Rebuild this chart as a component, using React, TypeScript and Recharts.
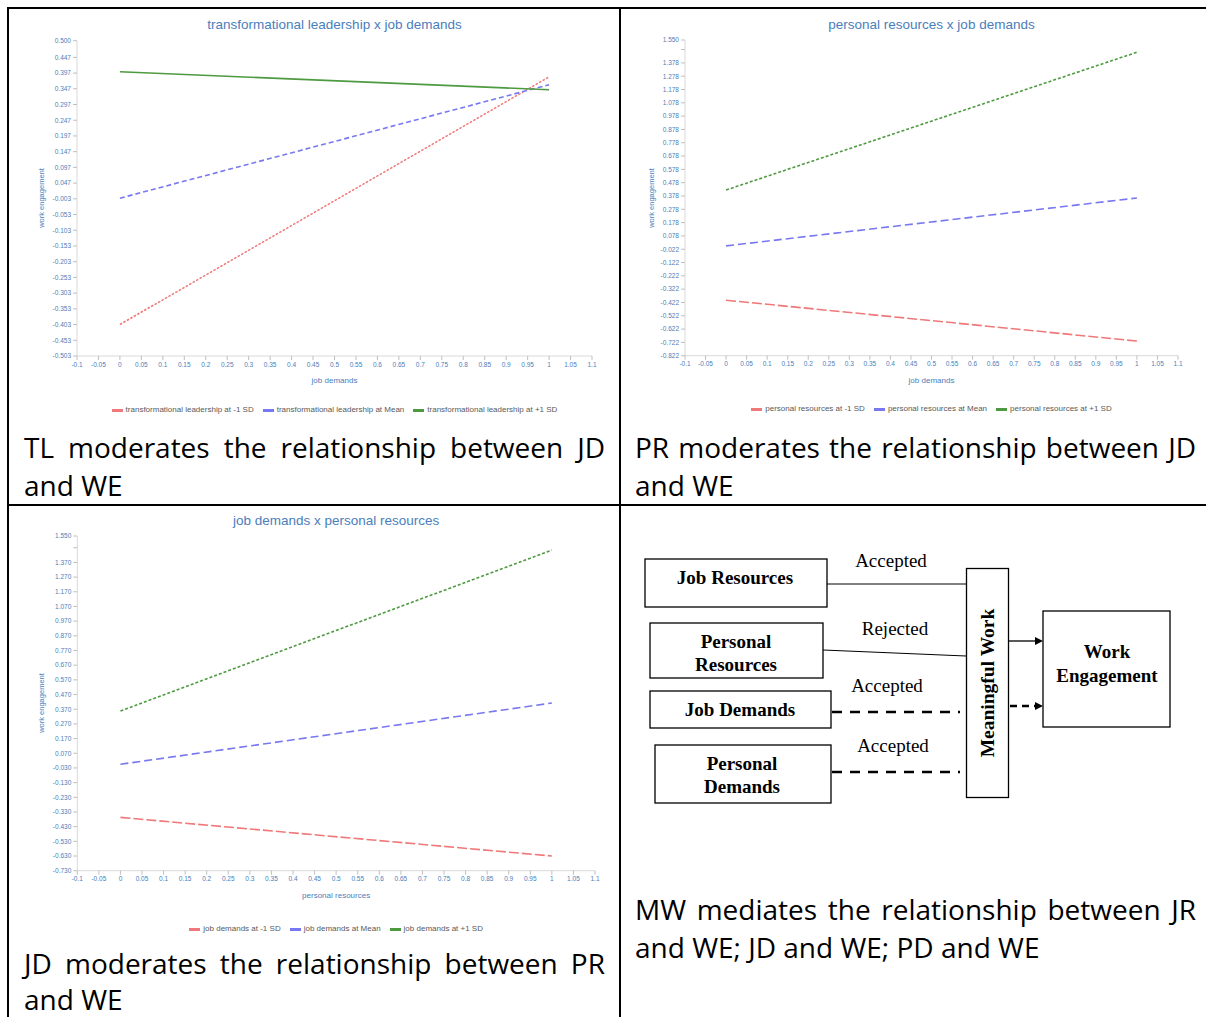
import React from 'react';
import { LineChart, Line, XAxis, YAxis } from 'recharts';

// ---------- data ----------
const xValues = [0, 1];
const xTicks = [-0.1, -0.05, 0, 0.05, 0.1, 0.15, 0.2, 0.25, 0.3, 0.35, 0.4, 0.45, 0.5, 0.55, 0.6, 0.65, 0.7, 0.75, 0.8, 0.85, 0.9, 0.95, 1, 1.05, 1.1];

// Chart 1: transformational leadership x job demands
const tlLow = [-0.403, 0.385];
const tlMean = [-0.001, 0.36];
const tlHigh = [0.401, 0.344];
const tlYTicks = [-0.503, -0.453, -0.403, -0.353, -0.303, -0.253, -0.203, -0.153, -0.103, -0.053, -0.003, 0.047, 0.097, 0.147, 0.197, 0.247, 0.297, 0.347, 0.397, 0.447, 0.5];
const tlNames = ['transformational leadership at -1 SD', 'transformational leadership at Mean', 'transformational leadership at +1 SD'];

// Chart 2: personal resources x job demands
const prLow = [-0.405, -0.712];
const prMean = [0.003, 0.363];
const prHigh = [0.423, 1.458];
const prYTicks = [-0.822, -0.722, -0.622, -0.522, -0.422, -0.322, -0.222, -0.122, -0.022, 0.078, 0.178, 0.278, 0.378, 0.478, 0.578, 0.678, 0.778, 0.878, 0.978, 1.078, 1.178, 1.278, 1.378, 1.478, 1.55];
const prBlank = [1.478];
const prNames = ['personal resources at -1 SD', 'personal resources at Mean', 'personal resources at +1 SD'];

// Chart 3: job demands x personal resources
const jdLow = [-0.367, -0.63];
const jdMean = [-0.005, 0.412];
const jdHigh = [0.358, 1.454];
const jdYTicks = [-0.73, -0.63, -0.53, -0.43, -0.33, -0.23, -0.13, -0.03, 0.07, 0.17, 0.27, 0.37, 0.47, 0.57, 0.67, 0.77, 0.87, 0.97, 1.07, 1.17, 1.27, 1.37, 1.47, 1.55];
const jdBlank = [1.47];
const jdNames = ['job demands at -1 SD', 'job demands at Mean', 'job demands at +1 SD'];

const captions = [
  ['TL moderates the relationship between JD', 'and WE'],
  ['PR moderates the relationship between JD', 'and WE'],
  ['JD moderates the relationship between PR', 'and WE'],
  ['MW mediates the relationship between JR', 'and WE; JD and WE; PD and WE'],
];

// ---------- style ----------
const RED = '#f07878';
const BLUE = '#7878f0';
const GREEN = '#4e9a40';
const AXIS_TEXT = '#4a7ebb';
const CHART_FONT = '"Liberation Sans", Arial, sans-serif';

function build(low: number[], mean: number[], high: number[]) {
  return xValues.map((x, i) => ({ x, low: low[i], mean: mean[i], high: high[i] }));
}

type PanelProps = {
  left: number; top: number; width: number; height: number;
  margin: { top: number; right: number; bottom: number; left: number };
  data: any[];
  yDomain: [number, number];
  yTicks: number[];
  blank?: number[];
  dashes: [string | undefined, string | undefined, string | undefined];
  title: string; titleY: number;
  xLabel: string; xLabelY: number;
  names: string[]; legendY: number;
};

function Panel(p: PanelProps) {
  const plotL = p.left + p.margin.left + 50;
  const plotR = p.left + p.width - p.margin.right;
  const plotT = p.top + p.margin.top;
  const plotB = p.top + p.height - p.margin.bottom - 30;
  const cx = (plotL + plotR) / 2;
  const cy = (plotT + plotB) / 2;
  const blank = p.blank || [];
  const colors = [RED, BLUE, GREEN];
  return (
    <>
      <div style={{ position: 'absolute', left: p.left, top: p.top }}>
        <LineChart width={p.width} height={p.height} data={p.data} margin={p.margin}>
          <XAxis
            type="number" dataKey="x" domain={[-0.1, 1.1]} ticks={xTicks} interval={0}
            height={30} tickSize={4} tickMargin={2}
            axisLine={{ stroke: '#d9d9d9' }} tickLine={{ stroke: '#bfbfbf' }}
            tick={{ fontSize: 6.5, fill: AXIS_TEXT, fontFamily: CHART_FONT }}
            tickFormatter={(v: number) => String(v)}
            allowDataOverflow
          />
          <YAxis
            type="number" domain={p.yDomain} ticks={p.yTicks} interval={0}
            width={50} tickSize={4} tickMargin={2}
            axisLine={{ stroke: '#d9d9d9' }} tickLine={{ stroke: '#bfbfbf' }}
            tick={{ fontSize: 6.5, fill: AXIS_TEXT, fontFamily: CHART_FONT }}
            tickFormatter={(v: number) => (blank.indexOf(v) >= 0 ? '' : v.toFixed(3))}
            allowDataOverflow
          />
          <Line type="linear" dataKey="low" stroke={RED} strokeWidth={1.6} strokeDasharray={p.dashes[0]} dot={false} isAnimationActive={false} />
          <Line type="linear" dataKey="mean" stroke={BLUE} strokeWidth={1.6} strokeDasharray={p.dashes[1]} dot={false} isAnimationActive={false} />
          <Line type="linear" dataKey="high" stroke={GREEN} strokeWidth={1.6} strokeDasharray={p.dashes[2]} dot={false} isAnimationActive={false} />
        </LineChart>
      </div>
      <div style={{ position: 'absolute', left: cx - 200, width: 400, top: p.titleY - 9, textAlign: 'center', fontFamily: CHART_FONT, fontSize: 13.5, color: AXIS_TEXT, lineHeight: '18px', whiteSpace: 'nowrap' }}>{p.title}</div>
      <div style={{ position: 'absolute', left: cx - 100, width: 200, top: p.xLabelY - 6, textAlign: 'center', fontFamily: CHART_FONT, fontSize: 8, color: AXIS_TEXT, lineHeight: '12px', whiteSpace: 'nowrap' }}>{p.xLabel}</div>
      <div style={{ position: 'absolute', left: p.left + 22 - 60, width: 120, top: cy - 6, textAlign: 'center', fontFamily: CHART_FONT, fontSize: 7.5, color: AXIS_TEXT, lineHeight: '12px', whiteSpace: 'nowrap', transform: 'rotate(-90deg)' }}>work engagement</div>
      <div style={{ position: 'absolute', left: cx - 300, width: 600, top: p.legendY - 6, display: 'flex', justifyContent: 'center', alignItems: 'center', gap: 9, fontFamily: CHART_FONT, fontSize: 8, color: '#595959', lineHeight: '12px', whiteSpace: 'nowrap' }}>
        {p.names.map((n, i) => (
          <span key={n} style={{ display: 'flex', alignItems: 'center', gap: 3 }}>
            <span style={{ display: 'inline-block', width: 11, height: 3, background: colors[i] }} />
            {n}
          </span>
        ))}
      </div>
    </>
  );
}

const captionStyle: React.CSSProperties = {
  position: 'absolute', fontFamily: '"Open Sans", sans-serif', fontSize: 28, lineHeight: '28px', color: '#000', whiteSpace: 'nowrap',
};

function Caption({ left, width, top, lines, gap = 38 }: { left: number; width: number; top: number; lines: string[]; gap?: number }) {
  return (
    <>
      <div style={{ ...captionStyle, left, width, top, textAlign: 'justify', textAlignLast: 'justify' as any, whiteSpace: 'normal' }}>{lines[0]}</div>
      <div style={{ ...captionStyle, left, width, top: top + gap, textAlign: 'left' }}>{lines[1]}</div>
    </>
  );
}

function Diagram() {
  const serif = '"Liberation Serif", "Times New Roman", serif';
  const box = { fill: '#fff', stroke: '#000', strokeWidth: 1.3 };
  const bold = { fontFamily: serif, fontWeight: 700, fontSize: 19, textAnchor: 'middle' as const, fill: '#000' };
  const reg = { fontFamily: serif, fontSize: 19, textAnchor: 'middle' as const, fill: '#000' };
  return (
    <svg width={1206} height={1017} style={{ position: 'absolute', left: 0, top: 0, pointerEvents: 'none' }}>
      {/* Job Resources */}
      <rect x={645} y={559} width={182} height={48} {...box} />
      <text x={735} y={583.5} {...bold}>Job Resources</text>
      <text x={891} y={567} {...reg}>Accepted</text>
      <line x1={827} y1={584} x2={966} y2={584} stroke="#000" strokeWidth={1} />
      {/* Personal Resources */}
      <rect x={650} y={623} width={173} height={55} {...box} />
      <text x={736} y={647.5} {...bold}>Personal</text>
      <text x={736} y={670.5} {...bold}>Resources</text>
      <text x={895} y={634.5} {...reg}>Rejected</text>
      <line x1={823} y1={650} x2={966} y2={656} stroke="#000" strokeWidth={1} />
      {/* Job Demands */}
      <text x={887} y={691.5} {...reg}>Accepted</text>
      <rect x={650} y={691} width={181} height={37} {...box} />
      <text x={740} y={715.5} {...bold}>Job Demands</text>
      <line x1={832} y1={712} x2={960} y2={712} stroke="#000" strokeWidth={2.6} strokeDasharray="10 8" />
      {/* Personal Demands */}
      <text x={893} y={752} {...reg}>Accepted</text>
      <rect x={655} y={745} width={176} height={58} {...box} />
      <text x={742} y={770} {...bold}>Personal</text>
      <text x={742} y={793} {...bold}>Demands</text>
      <line x1={832} y1={772} x2={960} y2={772} stroke="#000" strokeWidth={2.6} strokeDasharray="10 8" />
      {/* Meaningful Work */}
      <rect x={966.5} y={568.5} width={42} height={229} {...box} />
      <g transform="translate(987,683) rotate(-90)">
        <text x={0} y={6.5} {...bold} fontSize={19.5}>Meaningful Work</text>
      </g>
      {/* arrows */}
      <line x1={1009} y1={641} x2={1036} y2={641} stroke="#000" strokeWidth={1.3} />
      <polygon points="1035,637 1043,641 1035,645" fill="#000" />
      <line x1={1010} y1={706} x2={1036} y2={706} stroke="#000" strokeWidth={2.6} strokeDasharray="7 5" />
      <polygon points="1035,702 1043,706 1035,710" fill="#000" />
      {/* Work Engagement */}
      <rect x={1043} y={611} width={127} height={116} {...box} />
      <text x={1107} y={658} {...bold}>Work</text>
      <text x={1107} y={682} {...bold}>Engagement</text>
    </svg>
  );
}

export default function App() {
  const tlData = build(tlLow, tlMean, tlHigh);
  const prData = build(prLow, prMean, prHigh);
  const jdData = build(jdLow, jdMean, jdHigh);
  const line = (s: React.CSSProperties) => <div style={{ position: 'absolute', background: '#000', ...s }} />;
  return (
    <div style={{ position: 'absolute', left: 0, top: 0, width: 1206, height: 1017, background: '#fff', overflow: 'hidden' }}>
      {/* table borders */}
      {line({ left: 7, top: 7, width: 1199, height: 2 })}
      {line({ left: 7, top: 504, width: 1199, height: 2 })}
      {line({ left: 7, top: 7, width: 2, height: 1010 })}
      {line({ left: 619, top: 7, width: 2, height: 1010 })}

      <Panel
        left={20} top={10} width={590} height={410}
        margin={{ top: 30.7, right: 18, bottom: 34, left: 7 }}
        data={tlData} yDomain={[-0.503, 0.5]} yTicks={tlYTicks}
        dashes={['2.5 1.5', '5 3', undefined]}
        title="transformational leadership x job demands" titleY={25}
        xLabel="job demands" xLabelY={381}
        names={tlNames} legendY={410}
      />
      <Panel
        left={630} top={10} width={570} height={410}
        margin={{ top: 30, right: 22, bottom: 34.3, left: 5 }}
        data={prData} yDomain={[-0.822, 1.55]} yTicks={prYTicks} blank={prBlank}
        dashes={['10 3', '8 4', '3 2']}
        title="personal resources x job demands" titleY={25}
        xLabel="job demands" xLabelY={381}
        names={prNames} legendY={409}
      />
      <Panel
        left={20} top={510} width={590} height={420}
        margin={{ top: 26, right: 15, bottom: 29.3, left: 7.3 }}
        data={jdData} yDomain={[-0.73, 1.55]} yTicks={jdYTicks} blank={jdBlank}
        dashes={['10 3', '8 4', '3 2']}
        title="job demands x personal resources" titleY={521}
        xLabel="personal resources" xLabelY={896}
        names={jdNames} legendY={929}
      />

      <Caption left={24} width={581} top={433} lines={captions[0]} />
      <Caption left={635} width={561} top={433} lines={captions[1]} />
      <Caption left={24} width={581} top={949} lines={captions[2]} gap={36} />
      <Caption left={635} width={561} top={895} lines={captions[3]} />

      <Diagram />
    </div>
  );
}
